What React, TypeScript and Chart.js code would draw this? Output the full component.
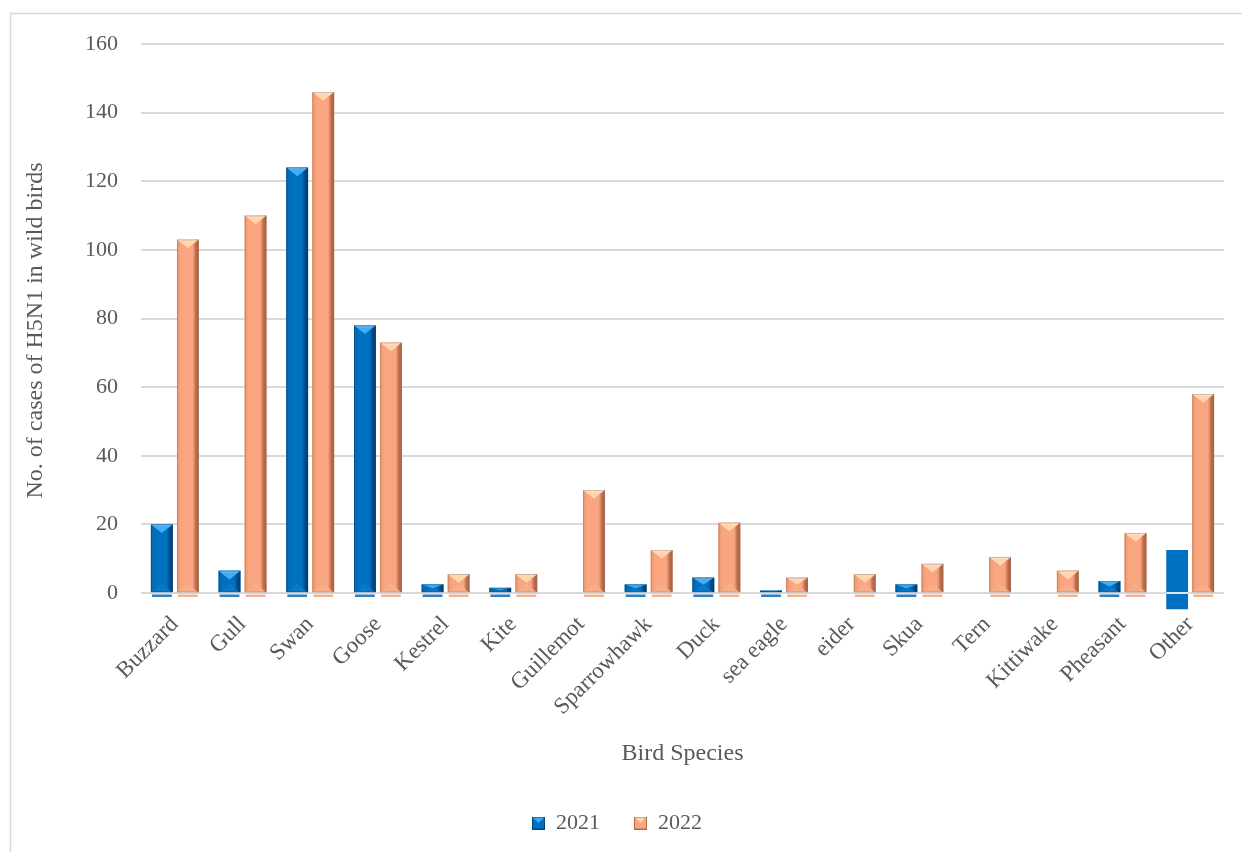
import React, { useEffect, useRef } from "react";
import { Chart, registerables } from "chart.js";

Chart.register(...registerables);

// Reported H5N1 cases in wild birds, by species
const categories = [
  "Buzzard", "Gull", "Swan", "Goose", "Kestrel", "Kite", "Guillemot", "Sparrowhawk",
  "Duck", "sea eagle", "eider", "Skua", "Tern", "Kittiwake", "Pheasant", "Other",
];
const seriesLabels = ["2021", "2022"];
// "Other" in 2021 is plotted as a floating range that dips under the axis
const other2021Range: [number, number] = [-4.7, 12.5];
const values2021: (number | [number, number])[] = [
  20, 6.5, 124, 78, 2.5, 1.5, 0, 2.5, 4.5, 0.7, 0, 2.5, 0, 0, 3.5, other2021Range,
];
const values2022: number[] = [
  103, 110, 146, 73, 5.5, 5.5, 30, 12.5, 20.5, 4.5, 5.5, 8.5, 10.5, 6.5, 17.5, 58,
];
const yMin = 0;
const yMax = 160;
const yStep = 20;

const FONT = "'Liberation Serif', 'Times New Roman', serif";
const TEXT = "#595959";

type Tone = {
  base: string; left: string; right: string; top: string; topEdge: string;
  bottom: string; strip: string; outline: string;
};

const tones: Tone[] = [
  {
    base: "#0070C0", left: "#0866AE", right: "#00467F", top: "#3FAEF2", topEdge: "#86D0FF",
    bottom: "#0C77C4", strip: "#2A7FCB", outline: "rgba(0,40,80,0.35)",
  },
  {
    base: "#F9A57F", left: "#F0996F", right: "#B46A4A", top: "#FFD4AE", topEdge: "#FFF0DC",
    bottom: "#F8AD8A", strip: "#F8B092", outline: "rgba(120,90,80,0.35)",
  },
];

function tri(ctx: CanvasRenderingContext2D, pts: number[]) {
  ctx.beginPath();
  ctx.moveTo(pts[0], pts[1]);
  for (let i = 2; i < pts.length; i += 2) ctx.lineTo(pts[i], pts[i + 1]);
  ctx.closePath();
  ctx.fill();
}

// Bevelled look of the columns: shaded body, light top facet and a short foot under the axis
const bevelPlugin = {
  id: "bevel",
  afterDatasetsDraw(chart: any) {
    const ctx: CanvasRenderingContext2D = chart.ctx;
    const yScale = chart.scales.y;
    const zeroY = yScale.getPixelForValue(0);
    chart.data.datasets.forEach((ds: any, di: number) => {
      const meta = chart.getDatasetMeta(di);
      const tone = tones[di];
      meta.data.forEach((el: any, i: number) => {
        const raw = ds.data[i];
        const { x, y, base, width } = el.getProps(["x", "y", "base", "width"], true);
        const left = x - width / 2;
        const right = x + width / 2;
        const top = Math.min(y, base);
        const bottom = Math.max(y, base);
        const h = bottom - top;
        ctx.save();
        if (Array.isArray(raw)) {
          // flat range bar: just the axis line running across it
          ctx.fillStyle = "#E4E4E4";
          ctx.fillRect(left, zeroY - 1, width, 2);
          ctx.restore();
          return;
        }
        if (h < 0.5) {
          ctx.restore();
          return;
        }
        // body
        const g = ctx.createLinearGradient(left, 0, right, 0);
        g.addColorStop(0, tone.left);
        g.addColorStop(0.22, tone.base);
        g.addColorStop(0.72, tone.base);
        g.addColorStop(0.88, tone.right);
        g.addColorStop(1, tone.right);
        ctx.fillStyle = g;
        ctx.fillRect(left, top, width, h);

        const bh = Math.min(width * 0.4, h / 2);
        // bottom facet
        ctx.fillStyle = tone.bottom;
        tri(ctx, [left + 1, bottom, right - 1, bottom, x, bottom - bh]);
        // top facet
        const tg = ctx.createLinearGradient(0, top, 0, top + bh);
        tg.addColorStop(0, tone.topEdge);
        tg.addColorStop(0.3, tone.top);
        tg.addColorStop(1, tone.top);
        ctx.fillStyle = tg;
        tri(ctx, [left, top, right, top, x, top + bh]);

        // thin outline
        ctx.strokeStyle = tone.outline;
        ctx.lineWidth = 1;
        ctx.strokeRect(left + 0.5, top + 0.5, width - 1, h - 0.5);

        // foot below the axis line
        ctx.fillStyle = tone.strip;
        ctx.fillRect(left + 1, zeroY + 1.5, width - 2, 2.5);
        ctx.restore();
      });
    });
  },
};

// Light frame around the chart
const framePlugin = {
  id: "frame",
  beforeDraw(chart: any) {
    const ctx: CanvasRenderingContext2D = chart.ctx;
    ctx.save();
    ctx.fillStyle = "#FFFFFF";
    ctx.fillRect(0, 0, chart.width, chart.height);
    ctx.strokeStyle = "#D9D9D9";
    ctx.lineWidth = 1.5;
    ctx.strokeRect(10.5, 13.5, chart.width + 20, chart.height + 20);
    ctx.restore();
  },
};

function makeSwatch(tone: Tone): HTMLCanvasElement {
  const c = document.createElement("canvas");
  c.width = 13;
  c.height = 13;
  const ctx = c.getContext("2d") as CanvasRenderingContext2D;
  ctx.fillStyle = tone.right;
  ctx.fillRect(0, 0, 13, 13);
  ctx.fillStyle = tone.base;
  ctx.fillRect(1, 1, 11, 11);
  ctx.fillStyle = tone.top;
  tri(ctx, [1, 1, 12, 1, 6.5, 6.5]);
  return c;
}

export default function App() {
  const canvasRef = useRef<HTMLCanvasElement | null>(null);

  useEffect(() => {
    const canvas = canvasRef.current;
    if (!canvas) return;
    const swatches = tones.map(makeSwatch);

    const chart = new Chart(canvas, {
      type: "bar",
      data: {
        labels: categories,
        datasets: [
          {
            label: seriesLabels[0],
            data: values2021 as any,
            backgroundColor: tones[0].base,
            borderWidth: 0,
            categoryPercentage: 0.77,
            barPercentage: 0.835,
            clip: false as any,
          },
          {
            label: seriesLabels[1],
            data: values2022,
            backgroundColor: tones[1].base,
            borderWidth: 0,
            categoryPercentage: 0.77,
            barPercentage: 0.835,
            clip: false as any,
          },
        ],
      },
      options: {
        responsive: false,
        animation: false,
        devicePixelRatio: 1,
        layout: { padding: { top: 44, left: 10, right: 18, bottom: 8 } },
        plugins: {
          tooltip: { enabled: false },
          legend: {
            position: "bottom",
            labels: {
              usePointStyle: true,
              boxWidth: 13,
              boxHeight: 13,
              padding: 34,
              color: TEXT,
              font: { family: FONT, size: 22 },
              generateLabels: (c: any) => {
                const items = Chart.defaults.plugins.legend.labels.generateLabels(c);
                return items.map((it: any, i: number) => ({ ...it, pointStyle: swatches[i] }));
              },
            },
          },
        },
        scales: {
          x: {
            grid: { display: false },
            border: { display: false },
            ticks: {
              color: TEXT,
              font: { family: FONT, size: 23 },
              maxRotation: 45,
              minRotation: 45,
              autoSkip: false,
              padding: 10,
            },
            title: {
              display: true,
              text: "Bird Species",
              color: TEXT,
              font: { family: FONT, size: 24 },
              padding: { top: 0, bottom: 10 },
            },
            afterFit: (scale: any) => {
              scale.height = 185;
            },
          },
          y: {
            min: yMin,
            max: yMax,
            ticks: {
              stepSize: yStep,
              color: TEXT,
              font: { family: FONT, size: 22 },
              padding: 23,
            },
            grid: { color: "#D9D9D9", lineWidth: 2, drawTicks: false },
            border: { display: false },
            title: {
              display: true,
              // trailing spaces nudge the rotated title a little lower
              text: "No. of cases of H5N1 in wild birds    ",
              color: TEXT,
              font: { family: FONT, size: 24 },
              padding: { top: 11, bottom: 0 },
            },
            afterFit: (scale: any) => {
              scale.width = 131;
            },
          },
        },
      },
      plugins: [framePlugin, bevelPlugin],
    });

    return () => chart.destroy();
  }, []);

  return (
    <div style={{ position: "fixed", left: 0, top: 0, width: 1242, height: 852, background: "#fff" }}>
      <canvas ref={canvasRef} width={1242} height={852} style={{ display: "block" }} />
    </div>
  );
}
